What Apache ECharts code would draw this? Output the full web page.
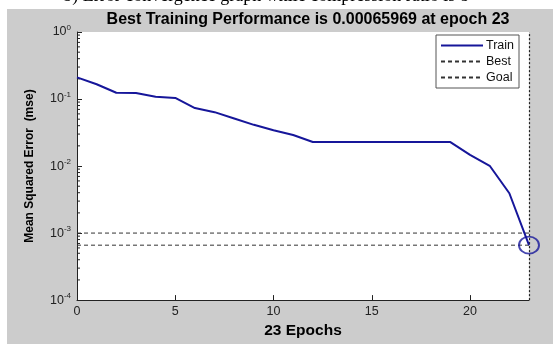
<!DOCTYPE html>
<html><head><meta charset="utf-8">
<script src="https://cdn.jsdelivr.net/npm/echarts@6/dist/echarts.min.js"></script>
<style>html,body{margin:0;padding:0;background:#fff}#c{width:553px;height:344px}</style>
</head><body><div id="c"></div>
<script>
var epochs = [0,1,2,3,4,5,6,7,8,9,10,11,12,13,14,15,16,17,18,19,20,21,22,23];
var trainMse = [0.21,0.166,0.124,0.123,0.108,0.104,0.0734,0.0637,0.0512,0.0412,0.0342,0.029,0.0228,0.0228,0.0228,0.0228,0.0228,0.0228,0.0228,0.0228,0.0147,0.0101,0.00393,0.00065969];
var bestEpoch = 23;
var bestValue = 0.00065969;
var goalValue = 0.001;
var xTicks = [0,5,10,15,20];
var yTicks = [1e-4,1e-3,1e-2,1e-1,1];
var minorMultipliers = [2,3,4,5,6,7,8,9];

var minorVals = [];
for (var d = 0; d < 4; d++) {
  for (var m = 0; m < minorMultipliers.length; m++) {
    minorVals.push([0, minorMultipliers[m] * yTicks[d]]);
  }
}

var chart = echarts.init(document.getElementById('c'), null, {renderer:'canvas'});
var navy = '#16169a';
chart.setOption({
  animation: false,
  backgroundColor: '#ffffff',
  graphic: [
    {type:'rect', left:7, top:9, shape:{width:546, height:335}, style:{fill:'#cccccc'}, z:-10, silent:true},
    {type:'text', x:266, y:5, style:{text:'b) Error convergence graph while compression ratio is 8', font:'18px "Liberation Serif"', fill:'#000', textAlign:'center', textVerticalAlign:'bottom'}, z:10}
  ],
  title: {
    text: 'Best Training Performance is 0.00065969 at epoch 23',
    left: 303, top: 7, textAlign: 'center',
    textStyle: {fontFamily:'Liberation Sans', fontWeight:'bold', fontSize:16, color:'#000'}
  },
  grid: {left:77, right:24, top:32, bottom:31, show:true, backgroundColor:'#ffffff', borderWidth:0},
  legend: {
    orient:'vertical', left:436, top:35, data:['Train','Best','Goal'],
    backgroundColor:'#ffffff', borderColor:'#555', borderWidth:1, padding:[4,5,4,4],
    itemWidth:42, itemHeight:12, itemGap:3, align:'left',
    itemStyle:{opacity:0},
    textStyle:{fontFamily:'Liberation Sans', fontSize:12.5, color:'#111', padding:[0,0,0,-2]}
  },
  xAxis: {
    type:'value', min:0, max:23,
    axisLine:{show:true, lineStyle:{color:'#222', width:1}},
    axisTick:{show:true, inside:true, length:5, customValues:xTicks, lineStyle:{color:'#222'}},
    axisLabel:{customValues:xTicks, color:'#222', fontFamily:'Liberation Sans', fontSize:12.5, margin:5},
    splitLine:{show:false},
    name:'23 Epochs', nameLocation:'middle', nameGap:18,
    nameTextStyle:{fontFamily:'Liberation Sans', fontWeight:'bold', fontSize:15.5, color:'#000'}
  },
  yAxis: {
    type:'log', logBase:10, min:1e-4, max:1,
    axisLine:{show:true, onZero:false, lineStyle:{color:'#222', width:1}},
    axisTick:{show:true, inside:true, length:5, lineStyle:{color:'#222'}},
    axisLabel:{
      color:'#222', margin:6,
      formatter:function(v){ var e = Math.round(Math.log10(v)); return '{b|10}{e|' + e + '}'; },
      rich:{
        b:{fontFamily:'Liberation Sans', fontSize:12.5, color:'#222'},
        e:{fontFamily:'Liberation Sans', fontSize:8, color:'#222', verticalAlign:'top', padding:[0,0,9,0]}
      }
    },
    splitLine:{show:false},
    name:'Mean Squared Error  (mse)', nameLocation:'middle', nameGap:41,
    nameTextStyle:{fontFamily:'Liberation Sans', fontWeight:'bold', fontSize:12, color:'#000'}
  },
  series: [
    {name:'Train', type:'line', data:epochs.map(function(e,i){return [e, trainMse[i]];}),
     symbol:'none', lineStyle:{color:navy, width:2}, itemStyle:{color:navy}, z:5},
    {name:'Best', type:'line', data:[[0,bestValue],[bestEpoch,bestValue]],
     symbol:'none', lineStyle:{color:'#333', width:1, type:[4,3]}, itemStyle:{color:'#333'}, z:3},
    {name:'Goal', type:'line', data:[[0,goalValue],[bestEpoch,goalValue]],
     symbol:'none', lineStyle:{color:'#333', width:1, type:[4,3]}, itemStyle:{color:'#333'}, z:3,
     markLine:{silent:true, symbol:'none', label:{show:false},
       lineStyle:{color:'#222', width:1.2, type:[2,2]},
       data:[{xAxis:bestEpoch}]}},
    {name:'bestMark', type:'scatter', data:[[bestEpoch,bestValue]], symbol:'circle', symbolSize:[20,17],
     itemStyle:{color:'rgba(0,0,0,0)', borderColor:navy, borderWidth:1.8}, z:6},
    {name:'minorTicks', type:'custom', data:minorVals, silent:true, z:4,
     renderItem:function(params, api){
       var p = api.coord([api.value(0), api.value(1)]);
       return {type:'line', shape:{x1:p[0], y1:p[1], x2:p[0]+3, y2:p[1]}, style:{stroke:'#222', lineWidth:1}};
     }}
  ]
});
</script></body></html>
